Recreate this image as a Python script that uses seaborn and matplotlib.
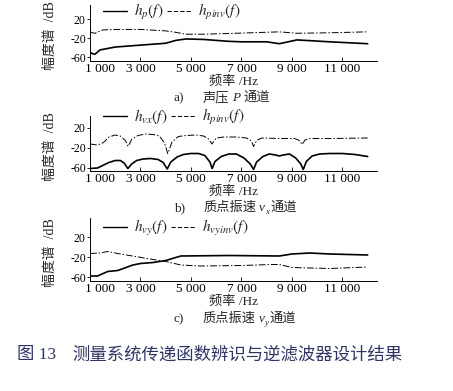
"""
Transfer function identification / inverse filter results (3 channels)
"""

import numpy as np
import pandas as pd
import matplotlib
matplotlib.use("Agg")
import matplotlib.pyplot as plt
import matplotlib.transforms as mtransforms
from matplotlib.lines import Line2D
import seaborn as sns

# ---- data (Hz, dB) ----
freq_p = [1000, 1100, 1200, 1400, 2000, 3000, 4000, 4400, 4800, 5500, 6500,
          7000, 8000, 8500, 9200, 10500, 12000]
hp = [-50, -53, -54, -45, -39, -35, -31, -25, -22, -23, -27,
      -28, -28, -32, -24, -28, -32]

freq_pinv = [1000, 1100, 1200, 1500, 2000, 3000, 4000, 4400, 4800, 5500,
             6800, 8500, 9200, 10500, 12000]
hpinv = [-7, -9, -10, -3, -2, -2, -5, -8, -12, -12,
         -10, -7, -10, -9, -7]

freq_vx = [1000, 1300, 1500, 1750, 2000, 2200, 2350, 2500, 2650, 2850, 3100,
           3400, 3700, 3900, 4060, 4200, 4450, 4700, 5000, 5300, 5550, 5750,
           5840, 5950, 6200, 6500, 6800, 7100, 7350, 7480, 7600, 7850, 8100,
           8350, 8500, 8650, 8900, 9150, 9350, 9450, 9570, 9800, 10100, 10500,
           11000, 11500, 12000]
hvx = [-61, -60, -55, -49, -45, -45, -50, -61, -52, -45, -42,
       -41, -43, -49, -62, -48, -38, -33, -31, -31, -35, -48,
       -61, -47, -37, -32, -32, -40, -52, -63, -48, -37, -32,
       -34, -36, -34, -32, -40, -52, -63, -47, -36, -32, -31,
       -31, -33, -37]

freq_vxinv = [1000, 1150, 1300, 1500, 1600, 1750, 2000, 2200, 2400, 2510,
              2650, 2900, 3200, 3500, 3750, 3950, 4080, 4250, 4500, 4800,
              5200, 5500, 5700, 5830, 6000, 6300, 6800, 7200, 7400, 7480,
              7600, 7800, 8500, 9100, 9300, 9400, 9520, 9700, 10500, 12000]
hvxinv = [-12, -13, -14, -10, -6, 2, 6, 4, -5, -17,
          -3, 5, 8, 7, 4, -10, -31, -8, 3, 5,
          6, 4, -2, -12, 0, 2, 2, 0, -6, -17,
          -5, 0, -1, -1, -5, -13, -4, -1, -1, 0]

freq_vy = [1000, 1300, 1700, 2100, 2700, 3000, 3500, 4000, 4600, 6500,
           8500, 9000, 9700, 10500, 12000]
hvy = [-58, -58, -49, -47, -36, -33, -31, -27, -18, -17,
       -18, -14, -12, -14, -16]

freq_vyinv = [1000, 1400, 1700, 2100, 2800, 3500, 4000, 4600, 5400, 7000,
              8200, 8500, 9000, 10500, 12000]
hvyinv = [-13, -12, -9, -13, -19, -25, -29, -36, -38, -37,
          -35, -35, -41, -43, -40]

x_ticks = [1000, 3000, 5000, 7000, 9000, 11000]
x_ticklabels = ["1 000", "3 000", "5 000", "7 000", "9 000", "11 000"]
y_ticks = [20, -20, -60]

CJK = ["Noto Sans CJK SC", "DejaVu Sans"]
SERIF = ["Liberation Serif", "DejaVu Serif"]

panels = [
    dict(f1=freq_p, v1=hp, f2=freq_pinv, v2=hpinv,
         lab1=r"$h_{p}(f)$", lab2=r"$h_{pinv}(f)$",
         tag="a)", cn1="声压", var="P", sub=None, cn2="通道",
         ylim=(-68.4, 49.5), rect=(90, 5, 377, 61), leg_y=12,
         xlab_y=82, cap_y=97),
    dict(f1=freq_vx, v1=hvx, f2=freq_vxinv, v2=hvxinv,
         lab1=r"$h_{vx}(f)$", lab2=r"$h_{pinv}(f)$",
         tag="b)", cn1="质点振速", var="v", sub="x", cn2="通道",
         ylim=(-66, 44), rect=(90, 116, 377, 171), leg_y=117,
         xlab_y=192, cap_y=207),
    dict(f1=freq_vy, v1=hvy, f2=freq_vyinv, v2=hvyinv,
         lab1=r"$h_{vy}(f)$", lab2=r"$h_{vyinv}(f)$",
         tag="c)", cn1="质点振速", var="v", sub="y", cn2="通道",
         ylim=(-68, 58), rect=(90, 218, 377, 281), leg_y=228,
         xlab_y=302, cap_y=318),
]

sns.set_theme(style="ticks")
plt.rcParams["font.family"] = ["Liberation Serif", "Noto Sans CJK SC", "DejaVu Sans"]
plt.rcParams["mathtext.fontset"] = "stix"
plt.rcParams["axes.unicode_minus"] = False

W, H = 453, 391
fig = plt.figure(figsize=(W / 100, H / 100), dpi=100)
renderer = fig.canvas.get_renderer()


def put_pieces(x_px, y_px, pieces):
    """place text pieces left to right on one baseline (pixel coords)"""
    x = x_px
    for s, kw, gap, dy in pieces:
        x += gap
        t = fig.text(x / W, 1 - (y_px + dy) / H, s, ha="left", va="baseline", **kw)
        x += t.get_window_extent(renderer).width


for p in panels:
    x0, y0, x1, y1 = p["rect"]
    ax = fig.add_axes([x0 / W, 1 - y1 / H, (x1 - x0) / W, (y1 - y0) / H])
    ax.set_facecolor("white")

    df1 = pd.DataFrame({"f": p["f1"], "v": p["v1"]})
    df2 = pd.DataFrame({"f": p["f2"], "v": p["v2"]})
    sns.lineplot(data=df1, x="f", y="v", ax=ax, color="black", linewidth=1.2)
    sns.lineplot(data=df2, x="f", y="v", ax=ax, color="black", linewidth=0.7,
                 dashes=False, linestyle=(0, (7, 2, 1.5, 2)))

    ax.set_xlim(1000, 12370)
    ax.set_ylim(*p["ylim"])
    ax.set_xticks(x_ticks)
    ax.set_xticklabels(x_ticklabels)
    ax.set_yticks(y_ticks)
    ax.tick_params(axis="x", direction="in", length=3, width=0.6, pad=1.5, labelsize=9.5)
    ax.tick_params(axis="y", direction="out", length=2.5, width=0.6, pad=0.5, labelsize=8.5)
    # first x label sits a bit to the right in the reference
    lbl0 = ax.get_xticklabels()[0]
    lbl0.set_transform(lbl0.get_transform() +
                       mtransforms.ScaledTranslation(0.10, 0, fig.dpi_scale_trans))
    sns.despine(ax=ax)
    for s in ("left", "bottom"):
        ax.spines[s].set_linewidth(0.7)
        ax.spines[s].set_color("black")
    ax.tick_params(colors="black")

    ax.set_xlabel("频率 /Hz", fontsize=9.5)
    ax.xaxis.set_label_coords(0.5, (y1 - p["xlab_y"]) / (y1 - y0))
    ax.xaxis.label.set_va("center")
    ax.set_ylabel("幅度谱  /dB", fontsize=10)
    ax.yaxis.set_label_coords((57 - x0) / (x1 - x0), 0.45)

    handles = [Line2D([], [], color="black", linewidth=1.0),
               Line2D([], [], color="black", linewidth=0.7, linestyle=(0, (4.5, 2)))]
    fig.legend(handles, [p["lab1"], p["lab2"]], ncol=2, frameon=False,
               loc="center left", bbox_to_anchor=(103 / W, 1 - p["leg_y"] / H),
               fontsize=11, handlelength=1.6, handletextpad=0.45,
               columnspacing=0.2, borderaxespad=0, borderpad=0)

    pieces = [(p["tag"], dict(fontsize=9.5, family=SERIF), 0, 0),
              (p["cn1"], dict(fontsize=9.5, family=CJK), 18, 0),
              (p["var"], dict(fontsize=9.5, family=SERIF, style="italic"), 3, 0)]
    if p["sub"]:
        pieces.append((p["sub"], dict(fontsize=6.5, family=SERIF, style="italic"), 0, 3))
    pieces.append((p["cn2"], dict(fontsize=9.5, family=CJK), 1 if p["sub"] else 3, 0))
    put_pieces(174, p["cap_y"] + 4, pieces)

cap_color = "#2e3563"
fig.text(17 / W, 1 - 355 / H, "图 13", ha="left", va="center",
         fontsize=12.5, color=cap_color)
fig.text(72 / W, 1 - 355 / H, "测量系统传递函数辨识与逆滤波器设计结果",
         ha="left", va="center", fontsize=12.5, color=cap_color, family=CJK)

fig.savefig("out.png", dpi=100, facecolor="white")
